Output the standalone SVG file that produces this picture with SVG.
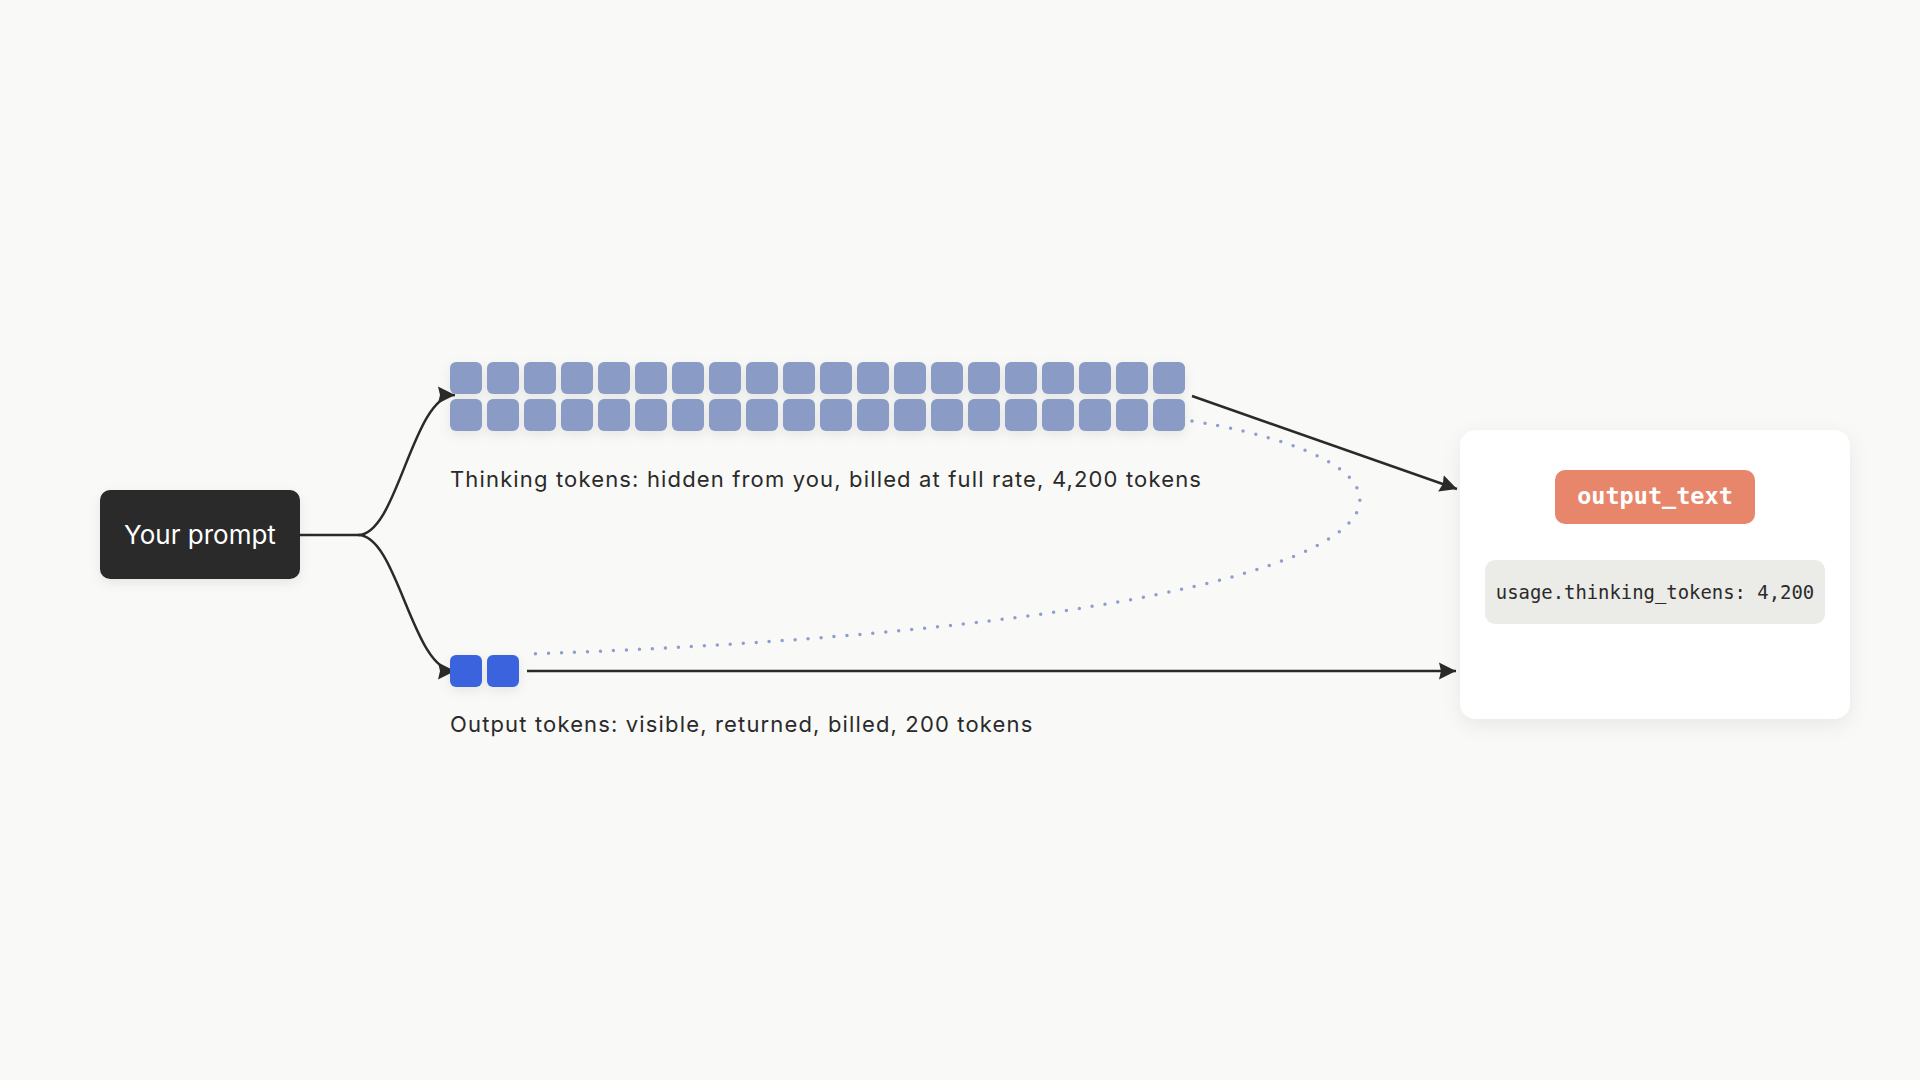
<svg xmlns="http://www.w3.org/2000/svg" width="1920" height="1080" viewBox="0 0 1920 1080">
<style>
.sans{font-family:Inter,"Noto Sans","Liberation Sans",sans-serif;}
.mono{font-family:"DejaVu Sans Mono","Liberation Mono",monospace;}
.tk{fill:#8a9cc6;}
.out{fill:#3b63dd;}
.conn{fill:none;stroke:#2a2a2a;stroke-width:2.5;}
.dots{fill:none;stroke:#8f9ed0;stroke-width:3.5;stroke-linecap:round;stroke-dasharray:0 13;}
.label{font-size:22px;fill:#2a2a2a;letter-spacing:1.15px;}
</style>
<defs>
<marker id="arr" markerUnits="userSpaceOnUse" markerWidth="20" markerHeight="20" viewBox="0 0 20 20" refX="17" refY="10" orient="auto">
<path d="M0,1.5 L17,10 L0,18.5 L2,10 Z" fill="#2a2a2a"/>
</marker>
<filter id="sh" x="-20%" y="-40%" width="140%" height="180%">
<feDropShadow dx="0" dy="4" stdDeviation="6" flood-color="#000" flood-opacity="0.08"/>
</filter>
<filter id="sh2" x="-10%" y="-10%" width="120%" height="130%">
<feDropShadow dx="0" dy="6" stdDeviation="10" flood-color="#000" flood-opacity="0.07"/>
</filter>
</defs>
<rect width="1920" height="1080" fill="#f9f9f7"/>

<g id="connectors">
<path class="conn" d="M300,535 L358,535 C398,535 412,395 455,395" marker-end="url(#arr)"/>
<path class="conn" d="M358,535 C398,535 412,671 455,671" marker-end="url(#arr)"/>
<path class="conn" d="M1192,396 L1457,489" marker-end="url(#arr)"/>
<path class="conn" d="M527,671 L1456,671" marker-end="url(#arr)"/>
<path class="dots" d="M1192,421 C1490,470 1460,620 531,654"/>
</g>

<g id="prompt">
<rect x="100" y="490" width="200" height="89" rx="10" fill="#2a2a2a" filter="url(#sh)"/>
<text class="sans" x="200" y="544" font-size="26" fill="#ffffff" text-anchor="middle">Your prompt</text>
</g>

<g id="thinking-tokens" filter="url(#sh)">
<rect class="tk" x="450" y="362" width="32" height="32" rx="6"/><rect class="tk" x="487" y="362" width="32" height="32" rx="6"/><rect class="tk" x="524" y="362" width="32" height="32" rx="6"/><rect class="tk" x="561" y="362" width="32" height="32" rx="6"/><rect class="tk" x="598" y="362" width="32" height="32" rx="6"/><rect class="tk" x="635" y="362" width="32" height="32" rx="6"/><rect class="tk" x="672" y="362" width="32" height="32" rx="6"/><rect class="tk" x="709" y="362" width="32" height="32" rx="6"/><rect class="tk" x="746" y="362" width="32" height="32" rx="6"/><rect class="tk" x="783" y="362" width="32" height="32" rx="6"/><rect class="tk" x="820" y="362" width="32" height="32" rx="6"/><rect class="tk" x="857" y="362" width="32" height="32" rx="6"/><rect class="tk" x="894" y="362" width="32" height="32" rx="6"/><rect class="tk" x="931" y="362" width="32" height="32" rx="6"/><rect class="tk" x="968" y="362" width="32" height="32" rx="6"/><rect class="tk" x="1005" y="362" width="32" height="32" rx="6"/><rect class="tk" x="1042" y="362" width="32" height="32" rx="6"/><rect class="tk" x="1079" y="362" width="32" height="32" rx="6"/><rect class="tk" x="1116" y="362" width="32" height="32" rx="6"/><rect class="tk" x="1153" y="362" width="32" height="32" rx="6"/>
<rect class="tk" x="450" y="399" width="32" height="32" rx="6"/><rect class="tk" x="487" y="399" width="32" height="32" rx="6"/><rect class="tk" x="524" y="399" width="32" height="32" rx="6"/><rect class="tk" x="561" y="399" width="32" height="32" rx="6"/><rect class="tk" x="598" y="399" width="32" height="32" rx="6"/><rect class="tk" x="635" y="399" width="32" height="32" rx="6"/><rect class="tk" x="672" y="399" width="32" height="32" rx="6"/><rect class="tk" x="709" y="399" width="32" height="32" rx="6"/><rect class="tk" x="746" y="399" width="32" height="32" rx="6"/><rect class="tk" x="783" y="399" width="32" height="32" rx="6"/><rect class="tk" x="820" y="399" width="32" height="32" rx="6"/><rect class="tk" x="857" y="399" width="32" height="32" rx="6"/><rect class="tk" x="894" y="399" width="32" height="32" rx="6"/><rect class="tk" x="931" y="399" width="32" height="32" rx="6"/><rect class="tk" x="968" y="399" width="32" height="32" rx="6"/><rect class="tk" x="1005" y="399" width="32" height="32" rx="6"/><rect class="tk" x="1042" y="399" width="32" height="32" rx="6"/><rect class="tk" x="1079" y="399" width="32" height="32" rx="6"/><rect class="tk" x="1116" y="399" width="32" height="32" rx="6"/><rect class="tk" x="1153" y="399" width="32" height="32" rx="6"/>
</g>
<g id="thinking-label">
<text class="sans label" x="450" y="487">Thinking tokens: hidden from you, billed at full rate, 4,200 tokens</text>
</g>

<g id="output-tokens" filter="url(#sh)">
<rect class="out" x="450" y="655" width="32" height="32" rx="6"/>
<rect class="out" x="487" y="655" width="32" height="32" rx="6"/>
</g>
<g id="output-label">
<text class="sans label" x="450" y="732">Output tokens: visible, returned, billed, 200 tokens</text>
</g>

<g id="result">
<rect x="1460" y="430" width="390" height="289" rx="16" fill="#ffffff" filter="url(#sh2)"/>
<g id="output-text">
<rect x="1555" y="470" width="200" height="54" rx="10" fill="#e8866c"/>
<text class="mono" x="1655" y="504" font-size="23.5" font-weight="bold" fill="#ffffff" text-anchor="middle">output_text</text>
</g>
<g id="usage">
<rect x="1485" y="560" width="340" height="64" rx="10" fill="#ebebe7"/>
<text class="mono" x="1655" y="599" font-size="18.9" fill="#2a2a2a" text-anchor="middle">usage.thinking_tokens: 4,200</text>
</g>
</g>
</svg>
